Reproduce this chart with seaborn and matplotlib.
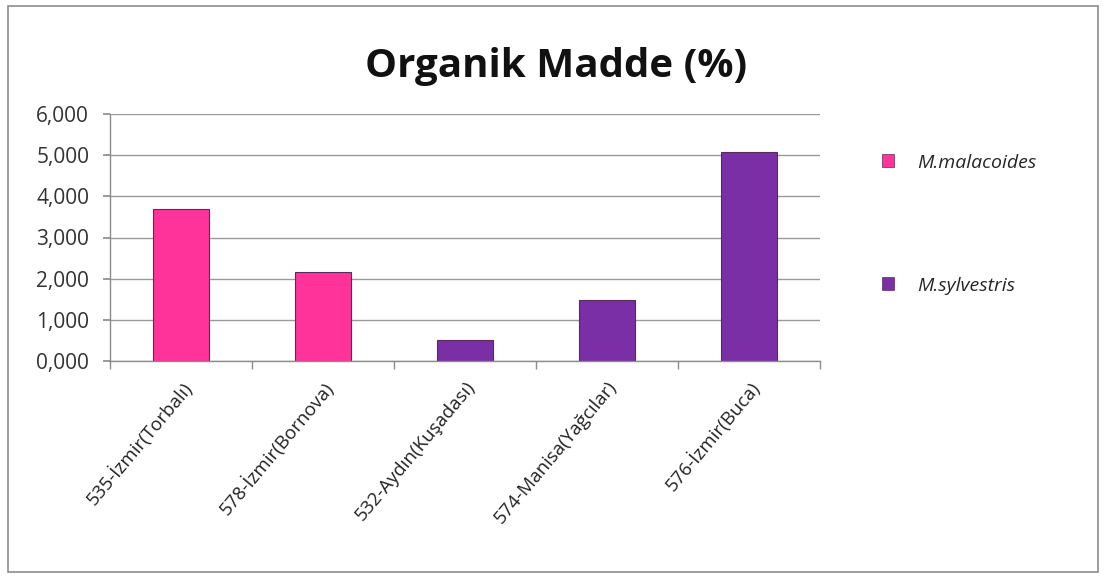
import matplotlib
matplotlib.use("Agg")
import matplotlib.pyplot as plt
from matplotlib.patches import Rectangle, Patch
from matplotlib.ticker import FuncFormatter, FixedLocator
import seaborn as sns
import pandas as pd

# Data
locations = ["535-İzmir(Torbalı)", "578-İzmir(Bornova)", "532-Aydın(Kuşadası)",
             "574-Manisa(Yağcılar)", "576-İzmir(Buca)"]
organic_matter = [3.69, 2.15, 0.50, 1.48, 5.08]
species = ["M.malacoides", "M.malacoides", "M.sylvestris", "M.sylvestris", "M.sylvestris"]
species_order = ["M.malacoides", "M.sylvestris"]
colors = {"M.malacoides": "#FF3399", "M.sylvestris": "#7A2FA6"}
y_ticks = [0, 1, 2, 3, 4, 5, 6]
title = "Organik Madde (%)"

df = pd.DataFrame({"loc": locations, "om": organic_matter, "sp": species})

sns.set_theme(style="white")
plt.rcParams["font.family"] = ["Open Sans", "DejaVu Sans"]

fig = plt.figure(figsize=(11.07, 5.78), dpi=100)
ax = fig.add_axes([110 / 1107, 1 - 361 / 578, 710 / 1107, (361 - 114) / 578])

sns.barplot(data=df, x="loc", y="om", hue="sp", hue_order=species_order,
            palette=colors, dodge=False, width=0.4, ax=ax, legend=False,
            edgecolor="#5a2a5a", linewidth=0.8, saturation=1)

ax.set_ylim(0, 6)
ax.set_xlim(-0.5, len(locations) - 0.5)
ax.yaxis.set_major_locator(FixedLocator(y_ticks))
ax.yaxis.set_major_formatter(FuncFormatter(lambda v, p: f"{v:.3f}".replace(".", ",")))
ax.grid(axis="y", color="#9a9a9a", linewidth=1)
ax.set_axisbelow(True)
ax.set_xlabel("")
ax.set_ylabel("")

for s in ["top", "right"]:
    ax.spines[s].set_visible(False)
for s in ["left", "bottom"]:
    ax.spines[s].set_color("#8c8c8c")
    ax.spines[s].set_linewidth(1)

ax.tick_params(axis="y", which="major", left=True, length=5, color="#8c8c8c",
               labelsize=15, labelcolor="#333333", pad=10)
ax.set_xticks(range(len(locations)))
ax.set_xticklabels(locations, rotation=50, ha="right", rotation_mode="anchor",
                   fontsize=13.5, color="#222222")
ax.tick_params(axis="x", which="major", length=0, pad=12)
ax.set_xticks([i - 0.5 for i in range(len(locations) + 1)], minor=True)
ax.tick_params(axis="x", which="minor", bottom=True, length=6, color="#8c8c8c")

fig.text(556 / 1107, 1 - 66 / 578, title, ha="center", va="center",
         fontsize=29, fontweight="bold", color="#111111")

handles = [Patch(facecolor=colors[s], edgecolor="#5a2a5a", linewidth=0.5) for s in species_order]
leg = fig.legend(handles, species_order, loc="upper left",
                 bbox_to_anchor=(864 / 1107, 1 - 136 / 578), frameon=False,
                 handlelength=0.65, handleheight=0.65, handletextpad=1.2,
                 labelspacing=5.4, prop={"style": "italic", "size": 14})

# Chart frame
fig.patches.append(Rectangle((8 / 1107, 6 / 578), 1090 / 1107, 566 / 578,
                             transform=fig.transFigure, fill=False,
                             edgecolor="#8c8c8c", linewidth=1.2))

fig.savefig("out.png", dpi=100)
